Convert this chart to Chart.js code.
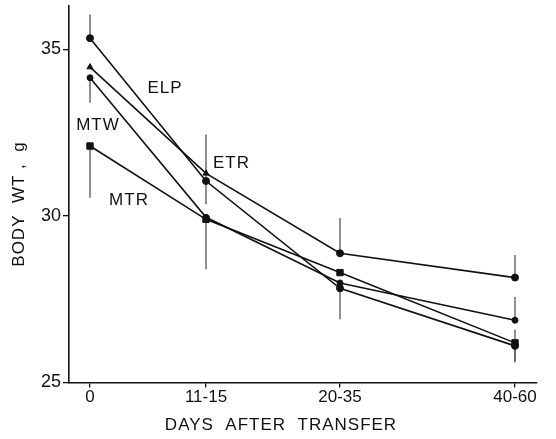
<!DOCTYPE html>
<html>
<head>
<meta charset="utf-8">
<script src="https://cdn.jsdelivr.net/npm/chart.js@4.4.1/dist/chart.umd.min.js"></script>
<style>
  html, body { margin: 0; padding: 0; background: #fff; }
  #wrap { width: 556px; height: 439px; position: relative; }
</style>
</head>
<body>
<div id="wrap"><canvas id="c" width="556" height="439"></canvas></div>
<script>
// Day groups (tick labels) and the x value at which each group is plotted
const dayGroups = ['0', '11-15', '20-35', '40-60'];
const dayGroupX = [0, 11.6, 25, 42.5];

// Series labels
const seriesNames = ['ELP', 'ETR', 'MTW', 'MTR'];

// Body weight means (g)
const elpWt = [35.34, 31.05, 27.83, 26.10];
const etrWt = [34.47, 31.28, 28.88, 28.15];
const mtwWt = [34.15, 29.96, 27.99, 26.87];
const mtrWt = [32.10, 29.90, 28.30, 26.19];

// Error bar extents (g) drawn above / below each mean (0 = not drawn)
const elpErrUp = [0.71, 0, 0, 0];
const elpErrDown = [0, 0, 0.93, 0.5];
const etrErrUp = [0, 1.17, 1.06, 0.68];
const etrErrDown = [0, 0.93, 0, 0];
const mtwErrUp = [0, 0, 0, 0.7];
const mtwErrDown = [0.75, 0, 0, 0];
const mtrErrUp = [0, 0, 0, 0.4];
const mtrErrDown = [1.55, 1.5, 0, 0.55];

// Y tick values
const yTicks = [25, 30, 35];

// Axis titles
const xTitle = 'DAYS  AFTER  TRANSFER';
const yTitle = 'BODY  WT ,  g';

// Label anchor points (data coordinates) for the series names
const labelX = [7.5, 14.15, 0.8, 3.9];
const labelY = [33.83, 31.59, 32.72, 30.48];

const FONT = '"Liberation Sans", Arial, sans-serif';
const INK = '#111';

function pts(vals) { return vals.map((v, i) => ({ x: dayGroupX[i], y: v })); }

const seriesVals = [elpWt, etrWt, mtwWt, mtrWt];
const errUps = [elpErrUp, etrErrUp, mtwErrUp, mtrErrUp];
const errDowns = [elpErrDown, etrErrDown, mtwErrDown, mtrErrDown];
const styles = [
  { pointStyle: 'circle', radius: 3.5 },
  { pointStyle: ['triangle', 'triangle', 'circle', 'circle'], radius: 3.5 },
  { pointStyle: 'circle', radius: 3 },
  { pointStyle: 'rect', radius: 4.5 }
];

const datasets = seriesVals.map((vals, k) => ({
  label: seriesNames[k],
  data: pts(vals),
  borderColor: INK,
  backgroundColor: INK,
  borderWidth: 1.6,
  pointStyle: styles[k].pointStyle,
  pointRadius: styles[k].radius,
  pointBorderWidth: 1,
  pointBackgroundColor: INK,
  pointBorderColor: INK,
  tension: 0,
  fill: false
}));

const errorBars = {
  id: 'errorBars',
  beforeDatasetsDraw(chart) {
    const { ctx, scales: { x, y } } = chart;
    ctx.save();
    ctx.strokeStyle = '#555';
    ctx.lineWidth = 1.3;
    seriesVals.forEach((vals, k) => {
      vals.forEach((v, j) => {
        const px = x.getPixelForValue(dayGroupX[j]);
        const up = errUps[k][j], dn = errDowns[k][j];
        if (up > 0) {
          ctx.beginPath();
          ctx.moveTo(px, y.getPixelForValue(v));
          ctx.lineTo(px, y.getPixelForValue(v + up));
          ctx.stroke();
        }
        if (dn > 0) {
          ctx.beginPath();
          ctx.moveTo(px, y.getPixelForValue(v));
          ctx.lineTo(px, y.getPixelForValue(v - dn));
          ctx.stroke();
        }
      });
    });
    ctx.restore();
  }
};

const textLayer = {
  id: 'textLayer',
  afterDraw(chart) {
    const { ctx, scales: { x, y }, chartArea } = chart;
    ctx.save();
    ctx.fillStyle = INK;
    ctx.textAlign = 'center';
    ctx.textBaseline = 'middle';
    ctx.font = '17px ' + FONT;
    if ('letterSpacing' in ctx) ctx.letterSpacing = '1px';
    seriesNames.forEach((n, k) => {
      ctx.fillText(n, x.getPixelForValue(labelX[k]), y.getPixelForValue(labelY[k]));
    });
    // x axis title
    ctx.fillText(xTitle, chartArea.left + (chartArea.right - chartArea.left) * 0.453, 425);
    // y axis title
    ctx.translate(19, y.getPixelForValue(30.36));
    ctx.rotate(-Math.PI / 2);
    ctx.fillText(yTitle, 0, 0);
    ctx.restore();
  }
};

new Chart(document.getElementById('c'), {
  type: 'line',
  data: { datasets },
  options: {
    responsive: false,
    animation: false,
    events: [],
    layout: { padding: { left: 0, right: 19, top: 5, bottom: 0 } },
    plugins: { legend: { display: false }, tooltip: { enabled: false } },
    scales: {
      x: {
        type: 'linear',
        min: -2.1,
        max: 44.7,
        afterBuildTicks(scale) { scale.ticks = dayGroupX.map(v => ({ value: v })); },
        afterFit(scale) { scale.height = 56.5; scale.paddingLeft = 0; scale.paddingRight = 0; },
        ticks: {
          callback(value, index) { return dayGroups[index]; },
          color: INK,
          font: { family: FONT, size: 17 },
          padding: 0,
          maxRotation: 0,
          autoSkip: false
        },
        grid: { display: true, drawOnChartArea: false, drawTicks: true, tickLength: 5, color: INK, lineWidth: 1.3 },
        border: { display: true, color: INK, width: 1.6 },
        title: { display: false }
      },
      y: {
        type: 'linear',
        min: 25,
        max: 36.32,
        afterBuildTicks(scale) { scale.ticks = yTicks.map(v => ({ value: v })); },
        afterFit(scale) { scale.width = 69; scale.paddingTop = 0; scale.paddingBottom = 0; },
        ticks: {
          color: INK,
          font: { family: FONT, size: 18 },
          padding: 2
        },
        grid: { display: true, drawOnChartArea: false, drawTicks: true, tickLength: 6, color: INK, lineWidth: 1.3 },
        border: { display: true, color: INK, width: 1.6 },
        title: { display: false }
      }
    }
  },
  plugins: [errorBars, textLayer]
});
</script>
</body>
</html>
